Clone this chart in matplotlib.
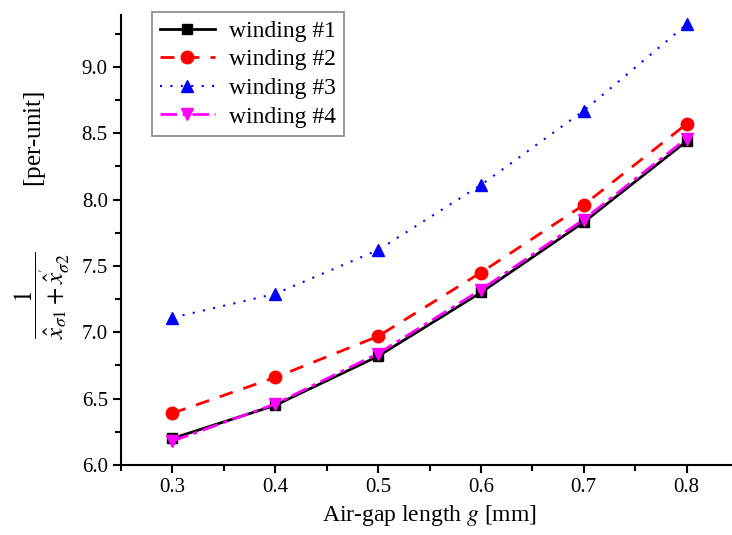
import numpy as np
import matplotlib.pyplot as plt
from matplotlib.ticker import MultipleLocator

# air-gap length [mm]
gap = [0.3, 0.4, 0.5, 0.6, 0.7, 0.8]

# 1 / (x_s1 + x'_s2) in per-unit for each winding
winding1 = [6.20, 6.45, 6.82, 7.30, 7.83, 8.44]
winding2 = [6.39, 6.66, 6.97, 7.45, 7.96, 8.57]
winding3 = [7.11, 7.29, 7.62, 8.11, 8.67, 9.32]
winding4 = [6.18, 6.46, 6.84, 7.32, 7.85, 8.46]

labels = ["winding #1", "winding #2", "winding #3", "winding #4"]

plt.rcParams['font.family'] = ['Liberation Serif', 'DejaVu Serif']
plt.rcParams['mathtext.fontset'] = 'stix'

fig = plt.figure(figsize=(7.32, 5.35), dpi=100)
ax = fig.add_axes([121 / 732, 70 / 535, 617 / 732, 450 / 535])

ax.plot(gap, winding1, color='black', linestyle='-', linewidth=2,
        marker='s', markersize=7, label=labels[0])
ax.plot(gap, winding2, color='red', linestyle=(0, (5, 4)), linewidth=2,
        marker='o', markersize=9, label=labels[1])
ax.plot(gap, winding3, color='blue', linestyle=(0, (1, 4)), linewidth=1.5,
        marker='^', markersize=9, label=labels[2])
ax.plot(gap, winding4, color='magenta', linestyle=(0, (6, 2, 1.5, 2)), linewidth=2,
        marker='v', markersize=9, label=labels[3])

ax.set_xlim(0.25, 0.85)
ax.set_ylim(6.0, 6.0 + 450 / 132.7)

ax.xaxis.set_major_locator(MultipleLocator(0.1))
ax.xaxis.set_minor_locator(MultipleLocator(0.05))
ax.yaxis.set_major_locator(MultipleLocator(0.5))
ax.yaxis.set_minor_locator(MultipleLocator(0.25))
ax.xaxis.set_major_formatter(plt.FuncFormatter(lambda v, p: f"{v:.1f}"))
ax.yaxis.set_major_formatter(plt.FuncFormatter(lambda v, p: f"{v:.1f}"))

ax.tick_params(which='major', direction='out', length=6, width=1.5, labelsize=15)
ax.tick_params(which='minor', direction='out', length=4, width=1.5)

ax.spines['top'].set_visible(False)
ax.spines['right'].set_visible(False)
ax.spines['left'].set_linewidth(1.5)
ax.spines['bottom'].set_linewidth(1.5)

ax.set_xlabel("Air-gap length $g$ [mm]", fontsize=17)
ax.set_ylabel(r"$\dfrac{1}{\hat{x}_{\sigma 1}+\hat{x}^{'}_{\sigma 2}}$"
              r"$\qquad\quad\;\;$[per-unit]", fontsize=18)
ax.yaxis.set_label_coords(-0.079, 0.556)

leg = ax.legend(loc='upper left', bbox_to_anchor=(31 / 617, 1 + 3 / 450), fontsize=17,
                handlelength=2.3, handletextpad=0.6, frameon=True, fancybox=False,
                borderpad=0.35, labelspacing=0.3, borderaxespad=0)
leg.get_frame().set_edgecolor('#666666')
leg.get_frame().set_linewidth(1.2)

fig.savefig("out.png", dpi=100)
